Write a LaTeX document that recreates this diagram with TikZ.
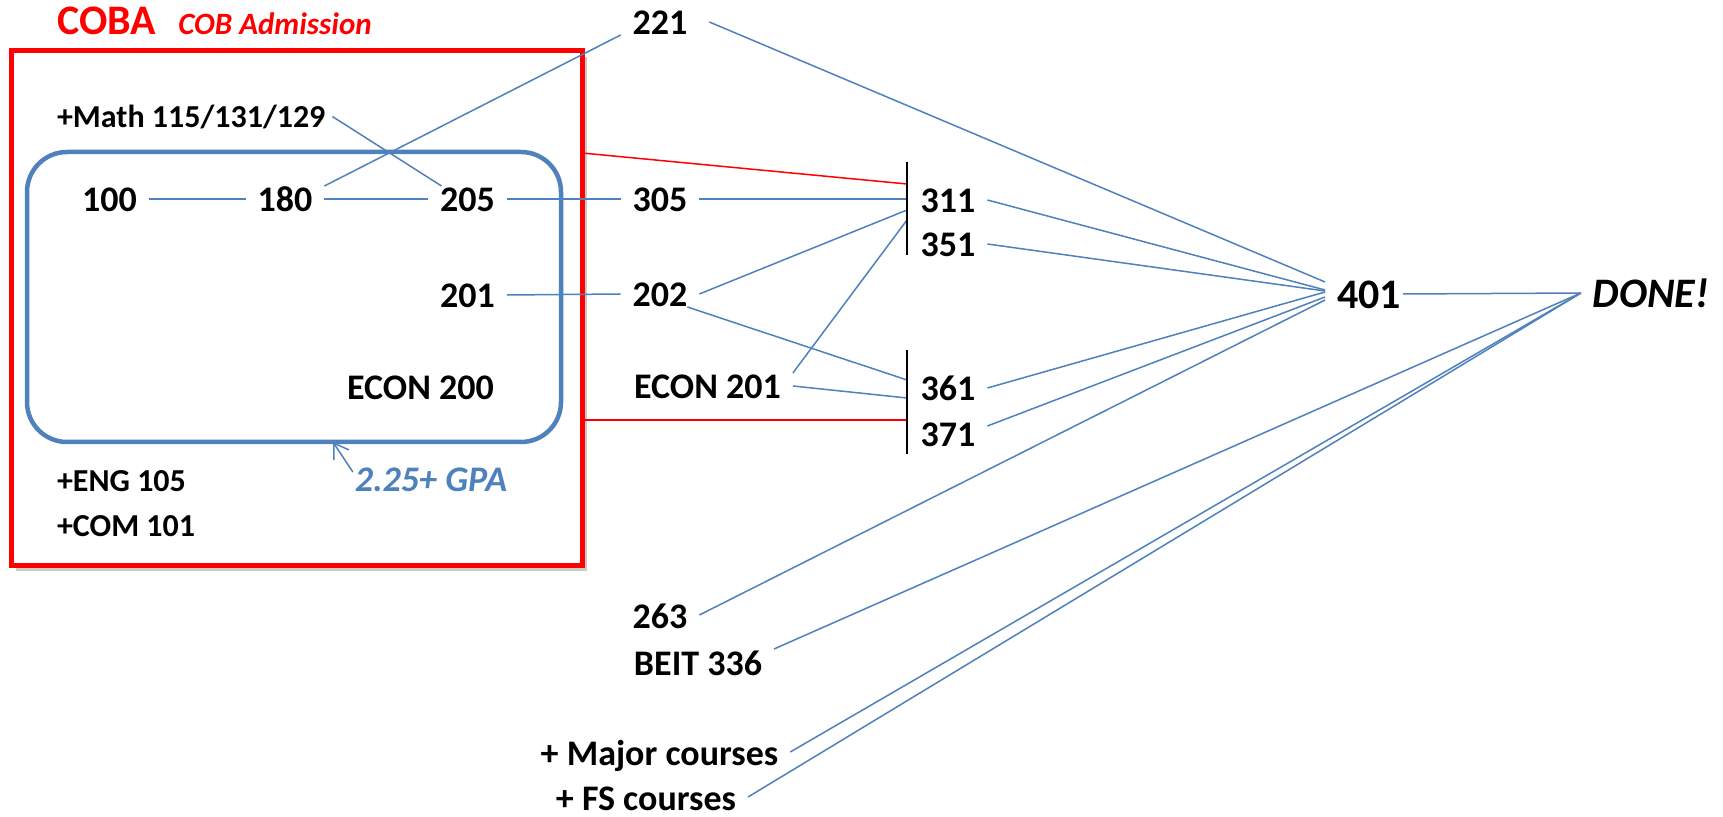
\documentclass[tikz,border=0pt]{standalone}
\usepackage{fontspec}
\setmainfont{Carlito}
\usetikzlibrary{arrows.meta,shadows}
\definecolor{obl}{HTML}{4F81BD}
\definecolor{rd}{HTML}{FF0000}
\begin{document}
\begin{tikzpicture}[x=0.5pt,y=-0.5pt,
  num/.style={font=\bfseries\fontsize{18pt}{21pt}\selectfont, text height=13pt, text depth=0pt, inner xsep=6pt, inner ysep=0pt, outer sep=0pt, anchor=base},
  big/.style={font=\bfseries\fontsize{21pt}{25pt}\selectfont, text height=15pt, text depth=0pt, inner xsep=6pt, inner ysep=0pt, outer sep=0pt, anchor=base},
  note/.style={font=\bfseries\fontsize{16pt}{19pt}\selectfont, text height=11.5pt, text depth=0pt, inner sep=0pt, outer sep=0pt, anchor=base west},
  link/.style={draw=obl, line width=0.75pt},
  redlink/.style={draw=rd, line width=0.75pt},
  bar/.style={draw=black, line width=1pt}]
\useasboundingbox[fill=white] (0,0) rectangle (1723,817);

% frames
\node[draw=rd, line width=2.5pt, fill=white, minimum width=285.5pt, minimum height=257pt, inner sep=0pt, outer sep=0pt,
  drop shadow={shadow xshift=2.5pt, shadow yshift=-3pt, fill=black!45, opacity=0.45}] (coba) at (296.5,308) {};
\node[draw=obl, line width=2.25pt, rounded corners=20pt, minimum width=267pt, minimum height=145pt, inner sep=0pt, outer sep=0pt] (adm) at (294,297) {};

% titles and notes
\node[anchor=base west, inner sep=0pt, text=rd, font=\bfseries\fontsize{21pt}{25pt}\selectfont] (cobat) at (57,35) {COBA};
\node[anchor=base west, inner sep=0pt, text=rd, font=\bfseries\itshape\fontsize{15.5pt}{18pt}\selectfont] (cobadm) at (178,35) {COB Admission};
\node[note] (math) at (57,128) {+Math 115/131/129};
\node[note] (eng) at (57,492) {+ENG 105};
\node[note] (com) at (57,537) {+COM 101};
\node[num, text=obl, font=\bfseries\itshape\fontsize{18pt}{21pt}\selectfont] (gpa) at (431,492) {2.25+ GPA};

% courses
\node[num] (n100) at (109.5,212) {100};
\node[num] (n180) at (285,212) {180};
\node[num] (n205) at (467.5,212) {205};
\node[num] (n201) at (467.5,308) {201};
\node[num] (e200) at (420.5,400) {ECON 200};
\node[num] (n221) at (660,35) {221};
\node[num] (n305) at (660,212) {305};
\node[num] (n202) at (660,307) {202};
\node[num] (e201) at (707.5,399) {ECON 201};
\node[num] (n263) at (660,628) {263};
\node[num] (beit) at (698,675) {BEIT 336};
\node[num] (major) at (659.5,765) {+ Major courses};
\node[num] (fs) at (646,810) {+ FS courses};
\node[num] (n311) at (948,213) {311};
\node[num] (n351) at (948,257) {351};
\node[num] (n361) at (948,401) {361};
\node[num] (n371) at (948,447) {371};
\node[big] (n401) at (1369,309) {401};
\node[big, font=\bfseries\itshape\fontsize{21pt}{25pt}\selectfont] (done) at (1651,308) {DONE!};

% bar points
\coordinate (b1top) at (907,162);
\coordinate (b1bot) at (907,255);
\coordinate (b1a) at (907,184);
\coordinate (b1b) at (907,199);
\coordinate (b1c) at (907,210);
\coordinate (b1d) at (907,220);
\coordinate (b2top) at (907,350);
\coordinate (b2bot) at (907,454);
\coordinate (b2a) at (907,380);
\coordinate (b2b) at (907,398);
\coordinate (b2c) at (907,420);

% connectors
\draw[link] (n100.east) -- (n180.west);
\draw[link] (n180.east) -- (n205.west);
\draw[link] (n205.east) -- (n305.west);
\draw[link] (n305.east) -- (b1b);
\draw[link] ([xshift=3.5pt]math.east) -- ([xshift=-13pt]n205.north);
\draw[link] (n180.north east) -- (n221.south west);
\draw[link] ([xshift=5pt]n221.east) -- ([yshift=6pt]n401.west);
\draw[redlink] ([yshift=-51pt]coba.north east) -- (b1a);
\draw[redlink] ([yshift=72.5pt]coba.south east) -- (b2c);
\draw[link] (n201.east) -- (n202.west);
\draw[link] (n202.east) -- (b1c);
\draw[link] ([xshift=-6pt]n202.south east) -- (b2a);
\draw[link] (e201.north east) -- (b1d);
\draw[link] (e201.east) -- (b2b);
\draw[link] (n311.east) -- ([yshift=2pt]n401.west);
\draw[link] (n351.east) -- ([yshift=1.5pt]n401.west);
\draw[link] (n361.east) -- ([yshift=1pt]n401.west);
\draw[link] ([yshift=4pt]n371.east) -- ([yshift=-1.5pt]n401.west);
\draw[link] (n263.east) -- ([yshift=-3pt]n401.west);
\draw[link] ([xshift=-5pt]n401.east) -- (done.west);
\draw[link] (beit.north east) -- (done.west);
\draw[link] (major.east) -- (done.west);
\draw[link] (fs.east) -- (done.west);
\draw[bar] (b1top) -- (b1bot);
\draw[bar] (b2top) -- (b2bot);
\draw[draw=obl, line width=0.75pt, -{Straight Barb[length=7pt,width=9pt]}] ([xshift=5pt,yshift=-3pt]gpa.north west) -- ([xshift=19.5pt]adm.south);
\end{tikzpicture}
\end{document}
